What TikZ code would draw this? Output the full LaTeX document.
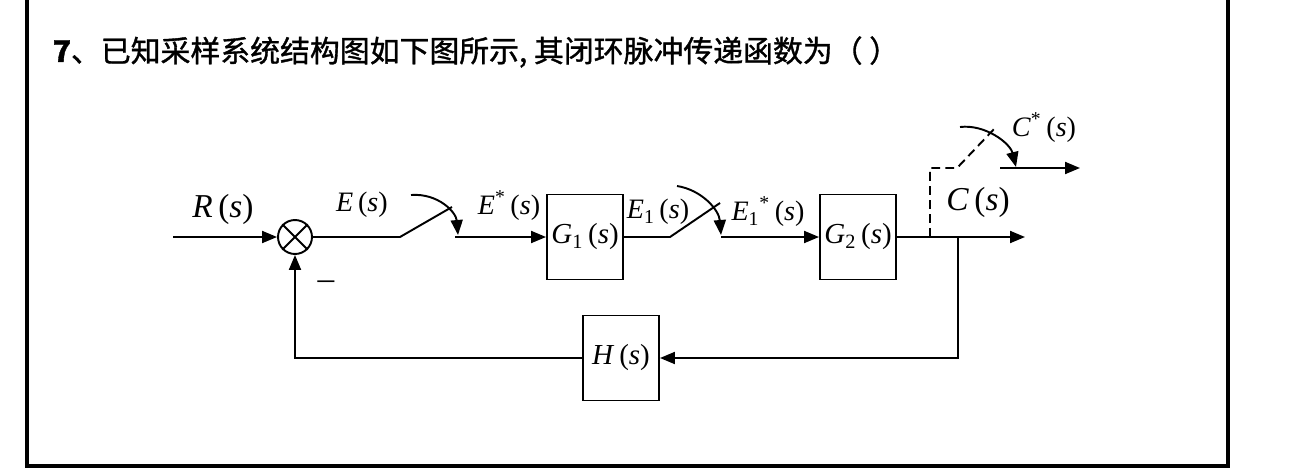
\documentclass[tikz,border=0pt]{standalone}
\usepackage{fontspec}
\setmainfont{Liberation Serif}
\newfontfamily\cjkfont[FakeBold=1.2]{Noto Sans CJK SC}
\usetikzlibrary{arrows.meta, calc}
\newcommand{\sgn}[2]{\textit{#1}#2\,(\textit{s})}

\begin{document}
\begin{tikzpicture}[x=0.02cm, y=-0.02cm, line width=1.1pt, >={Triangle[length=3mm, width=2.4mm]},
  blk/.style={draw, minimum width=1.52cm, minimum height=1.7cm, inner sep=0pt,
              font=\fontsize{16.5}{20}\selectfont},
  sumnode/.style={draw, circle, minimum size=0.68cm, inner sep=0pt},
  lbl/.style={inner sep=1pt, font=\fontsize{19}{22}\selectfont},
  smlbl/.style={inner sep=1pt, font=\fontsize{16}{19}\selectfont},
  swdash/.style={dash pattern=on 5pt off 3pt},
]
  \useasboundingbox (0,0) rectangle (1300,470);
  % frame round the question
  \draw[line width=2.3pt] (27,0) -- (27,466) -- (1228,466) -- (1228,0);
  \node[anchor=west, font=\cjkfont\fontsize{17}{20}\selectfont] (title) at (46,52)
    {\textbf{7}、已知采样系统结构图如下图所示,\ 其闭环脉冲传递函数为（ ）};

  % blocks
  \node[sumnode] (sum) at (295,237) {};
  \draw (sum.north west) -- (sum.south east) (sum.north east) -- (sum.south west);
  \node[blk] (G1) at (585,237) {\textit{G}\textsubscript{1}\,(\textit{s})};
  \node[blk] (G2) at (858,237) {\textit{G}\textsubscript{2}\,(\textit{s})};
  \node[blk] (H)  at (621,358) {\sgn{H}{}};

  % points of the wires and samplers
  \coordinate (in)   at (173,237);
  \coordinate (s1a)  at (400,237);
  \coordinate (s1b)  at (452,207);
  \coordinate (s1c)  at (455,237);
  \coordinate (k1s)  at (411,195);
  \coordinate (k1e)  at (458,235);
  \coordinate (s2a)  at (670,237);
  \coordinate (s2b)  at (720,203);
  \coordinate (s2c)  at (721,237);
  \coordinate (k2s)  at (677,186);
  \coordinate (k2e)  at (721,235);
  \coordinate (out)  at (1025,237);
  \coordinate (tapd) at (930,237);
  \coordinate (d1)   at (930,168);
  \coordinate (d2)   at (957,168);
  \coordinate (d3)   at (995,128);
  \coordinate (k3s)  at (960,127);
  \coordinate (k3e)  at (1016,167);
  \coordinate (s3c)  at (1000,168);
  \coordinate (out2) at (1080,168);
  \coordinate (tapf) at (958,237);

  % forward path
  \draw[->] (in) -- (sum);
  \draw (sum) -- (s1a) -- (s1b);
  \draw[->] (k1s) .. controls (438,193) and (456,212) .. (k1e);
  \draw[->] (s1c) -- (G1);
  \draw (G1) -- (s2a) -- (s2b);
  \draw[->] (k2s) .. controls (702,190) and (719,210) .. (k2e);
  \draw[->] (s2c) -- (G2);
  \draw[->] (G2) -- (out);
  % output sampler
  \draw[swdash] (tapd) -- (d1) -- (d2) -- (d3);
  \draw[->] (k3s) .. controls (985,124) and (1010,143) .. (k3e);
  \draw[->] (s3c) -- (out2);
  % feedback path
  \draw[->] (tapf) |- (H);
  \draw[->] (H) -| (sum);

  % signal names
  \node[lbl]   (lR)  at (223,209) {\sgn{R}{}};
  \node[smlbl] (lE)  at (362,205) {\sgn{E}{}};
  \node[smlbl] (lEs) at (509,206) {\sgn{E}{\textsuperscript{*}}};
  \node[smlbl] (lE1) at (658,212) {\sgn{E}{\textsubscript{1}}};
  \node[smlbl] (lE1s) at (768,212) {\sgn{E}{\textsubscript{1}\textsuperscript{*}}};
  \node[lbl]   (lC)  at (978,202) {\sgn{C}{}};
  \node[smlbl] (lCs) at (1044,128) {\sgn{C}{\textsuperscript{*}}};
  \node[lbl]   (lm)  at (326,285) {--};
\end{tikzpicture}
\end{document}
